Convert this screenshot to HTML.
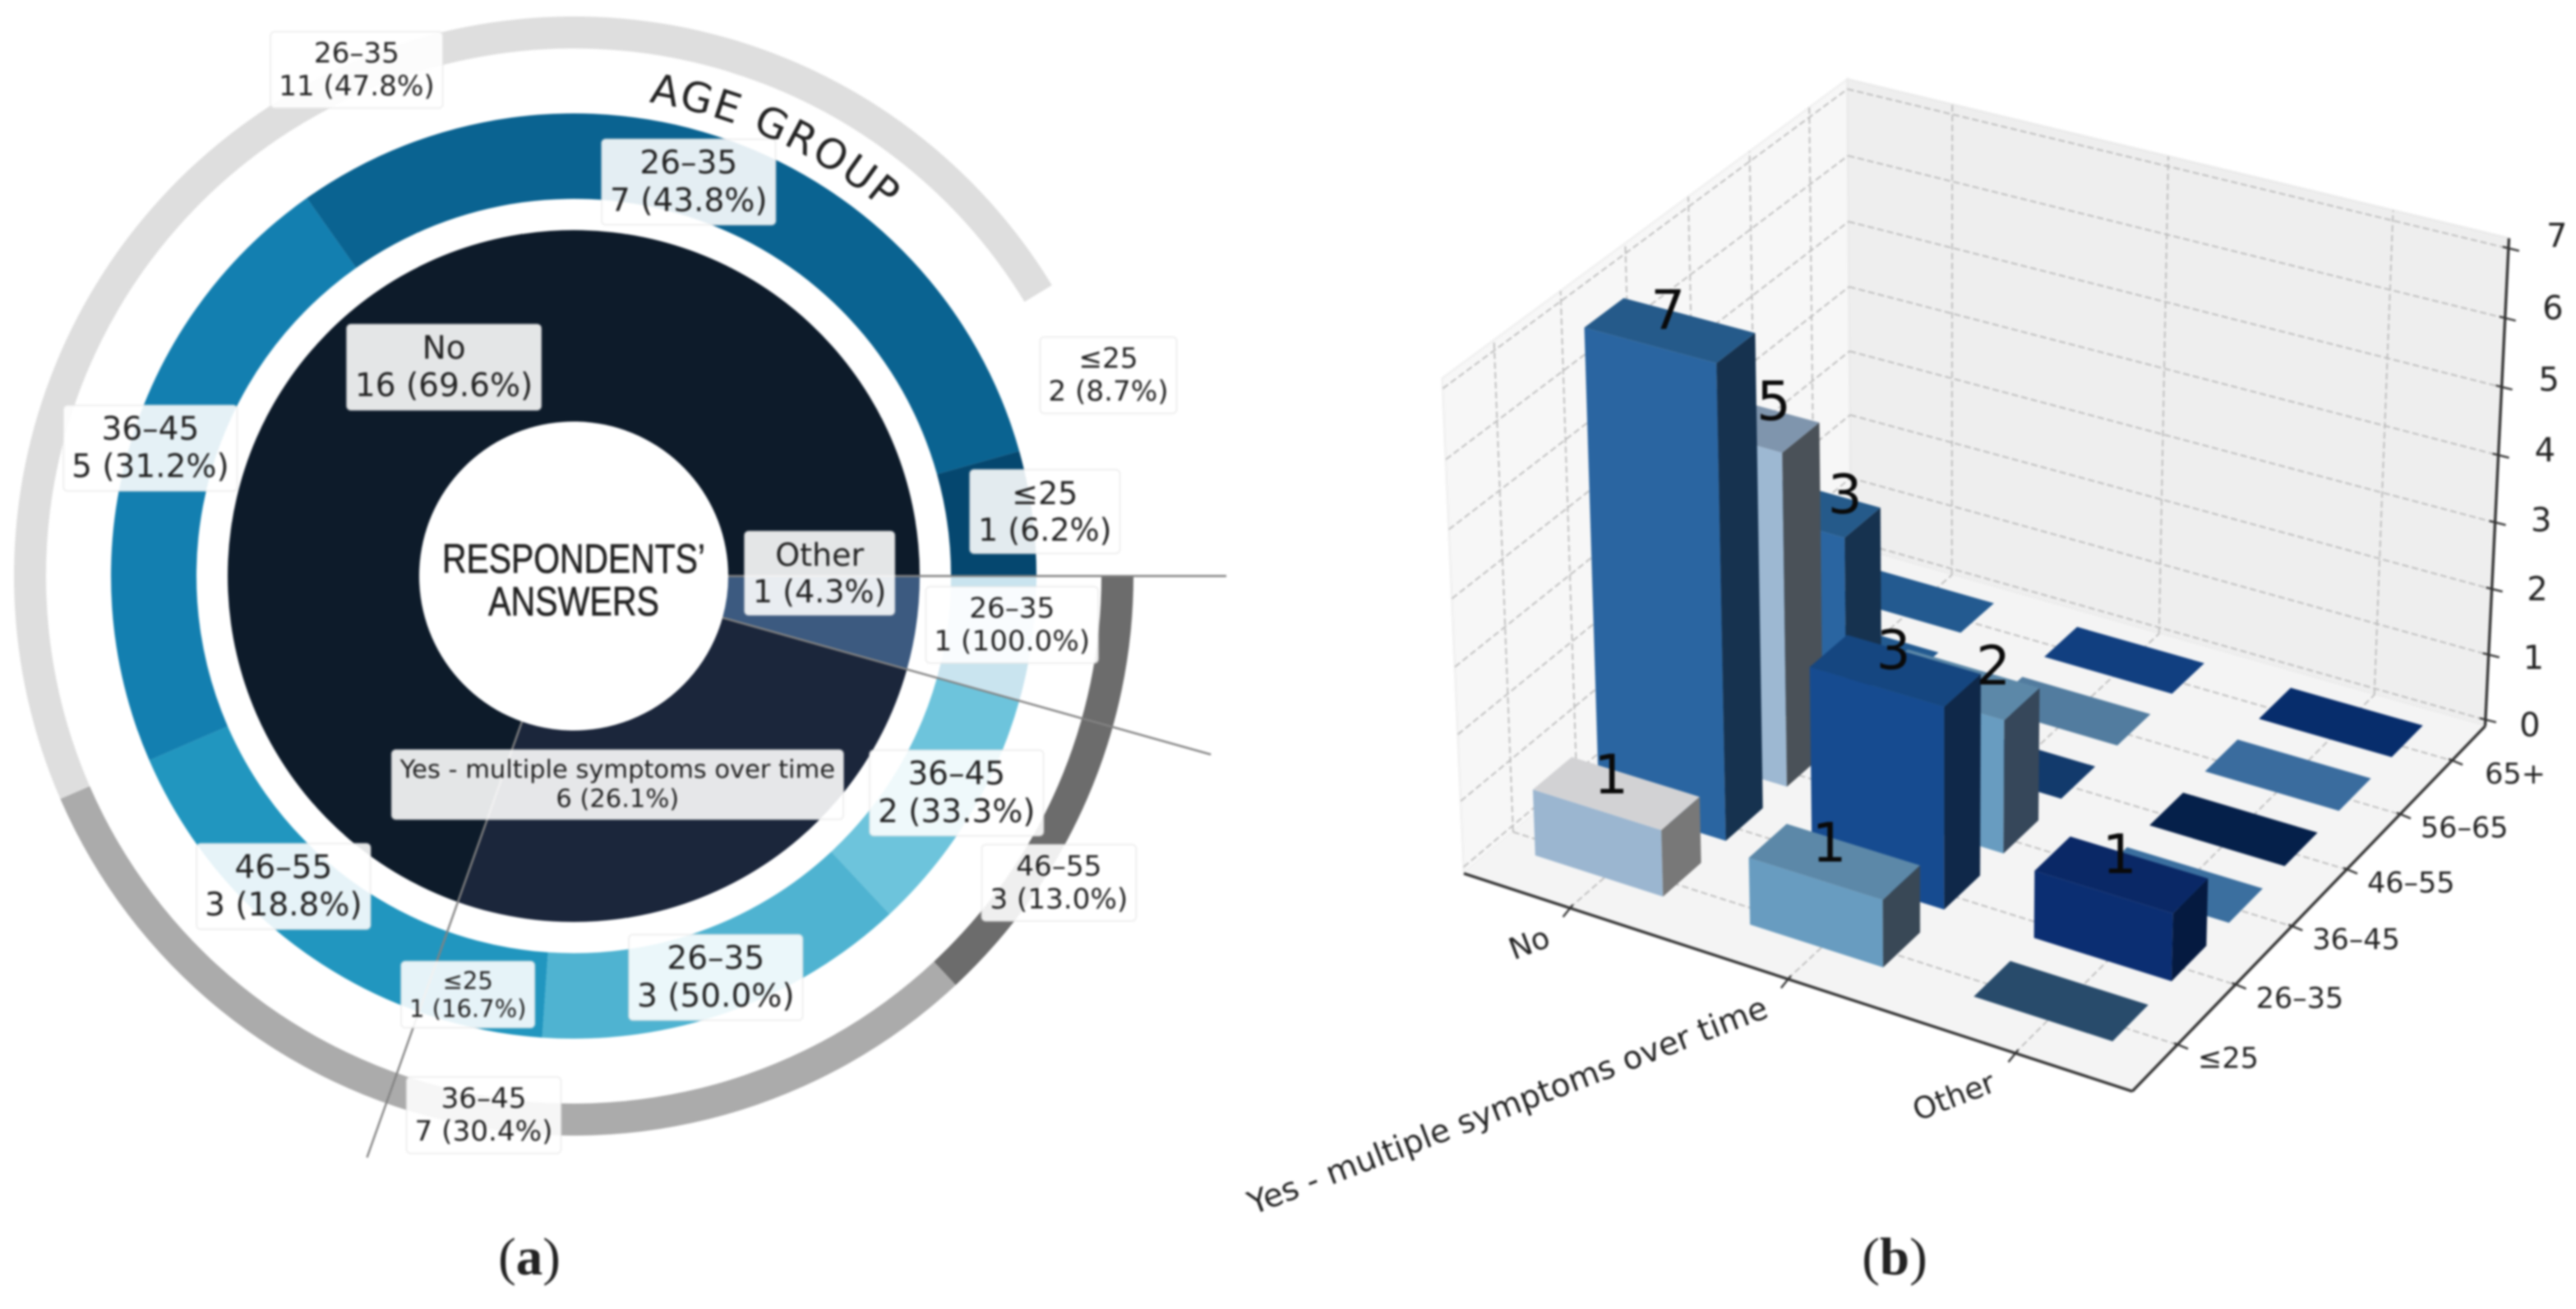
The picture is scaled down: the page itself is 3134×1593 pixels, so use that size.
<!DOCTYPE html>
<html lang="en">
<head>
<meta charset="utf-8">
<title>Respondents' answers by age group</title>
<style>
html,body{margin:0;padding:0;background:#fff;width:3134px;height:1593px;overflow:hidden}
svg{display:block;filter:blur(1.3px)}
text{font-family:"DejaVu Sans","Liberation Sans",sans-serif;fill:#222222}
</style>
</head>
<body>
<svg id="figure" xmlns="http://www.w3.org/2000/svg" width="3134" height="1593" viewBox="0 0 3134 1593">
  <rect x="0" y="0" width="3134" height="1593" fill="#ffffff"/>
  <g id="donut"></g>
  <g id="bars3d"></g>
  <text x="644" y="1551" text-anchor="middle" font-size="65" style="font-family:'Liberation Serif',serif">(<tspan font-weight="bold">a</tspan>)</text>
  <text x="2305" y="1551" text-anchor="middle" font-size="65" style="font-family:'Liberation Serif',serif">(<tspan font-weight="bold">b</tspan>)</text>
</svg>
<script>
// ---- donut data ----
const innerLabels = ['Other', 'Yes - multiple symptoms over time', 'No'];
const innerCounts = [1, 6, 16];
const innerPercents = ['4.3%', '26.1%', '69.6%'];
const otherAges = ['26–35'];
const otherCounts = [1];
const otherPercents = ['100.0%'];
const yesAges = ['36–45', '26–35', '≤25'];
const yesCounts = [2, 3, 1];
const yesPercents = ['33.3%', '50.0%', '16.7%'];
const noAges = ['46–55', '36–45', '26–35', '≤25'];
const noCounts = [3, 5, 7, 1];
const noPercents = ['18.8%', '31.2%', '43.8%', '6.2%'];
const outerAges = ['46–55', '36–45', '26–35', '≤25'];
const outerCounts = [3, 7, 11, 2];
const outerPercents = ['13.0%', '30.4%', '47.8%', '8.7%'];

// ---- 3D bar data ----
const xCategories = ['No', 'Yes - multiple symptoms over time', 'Other'];
const yCategories = ['≤25', '26–35', '36–45', '46–55', '56–65', '65+'];
const zTickLabels = [0, 1, 2, 3, 4, 5, 6, 7];
const countsNo = [1, 7, 5, 3, 0, 0];
const countsYes = [1, 3, 2, 0, 0, 0];
const countsOther = [0, 1, 0, 0, 0, 0];

// ---- styling (not data) ----
const NS = 'http://www.w3.org/2000/svg';
const donut = document.getElementById('donut');
const bars = document.getElementById('bars3d');
function mk(parent, tag, attrs, txt) {
  const el = document.createElementNS(NS, tag);
  for (const k in attrs) el.setAttribute(k, attrs[k]);
  if (txt !== undefined) el.textContent = txt;
  parent.appendChild(el);
  return el;
}
function slug(s) { return String(s).toLowerCase().replace('≤', 'under-').replace(/[^a-z0-9]+/g, '-'); }

// ---- donut scales ----
const CX = 698, CY = 701;
const sum = a => a.reduce((p, c) => p + c, 0);
const angleScale = v => v / sum(innerCounts) * 360;
const pos = (r, deg) => [CX + r * Math.cos(deg * Math.PI / 180), CY + r * Math.sin(deg * Math.PI / 180)];
function sector(r0, r1, a0, a1) {
  const p0 = pos(r1, a0), p1 = pos(r1, a1), p2 = pos(r0, a1), p3 = pos(r0, a0);
  const lg = (a1 - a0) > 180 ? 1 : 0;
  return 'M' + p0[0] + ' ' + p0[1] + 'A' + r1 + ' ' + r1 + ' 0 ' + lg + ' 1 ' + p1[0] + ' ' + p1[1] +
    'L' + p2[0] + ' ' + p2[1] + 'A' + r0 + ' ' + r0 + ' 0 ' + lg + ' 0 ' + p3[0] + ' ' + p3[1] + 'Z';
}

const innerColors = ['#3c5a80', '#1b263b', '#0d1b2a'];
const otherColors = ['#c9e4ef'];
const yesColors = ['#6dc4dc', '#4fb3d1', '#2196bf'];
const noColors = ['#2196bf', '#137fb0', '#0a6391', '#05476f'];
const outerColors = ['#6c6c6c', '#ababab', '#dedede', '#ffffff'];
const labelQueue = [];

// inner ring + separators
let innerStart = 0;
const innerSpans = [];
innerCounts.forEach((c, i) => {
  const span = angleScale(c);
  const wedge = mk(donut, 'path', { d: sector(188, 421, innerStart, innerStart + span), fill: innerColors[i] });
  
  
  innerSpans.push([innerStart, span]);
  innerStart += span;
});

// middle ring
const midGroups = [
  [otherAges, otherCounts, otherPercents, otherColors, 'other'],
  [yesAges, yesCounts, yesPercents, yesColors, 'yes'],
  [noAges, noCounts, noPercents, noColors, 'no']
];
const midNudges = [[[28, -10]], [[30, -1], [2, 8], [-25, 10]], [[-5, 5], [-24, -18], [-31, 1], [68, -9]]];
const midFonts = [[34.2], [39, 39, 29], [39, 39, 39, 38]];
midGroups.forEach((g, gi) => {
  let a = innerSpans[gi][0];
  const total = sum(g[1]);
  g[1].forEach((c, i) => {
    const span = innerSpans[gi][1] * c / total;
    const wedge = mk(donut, 'path', { d: sector(459, 563, a, a + span), fill: g[3][i] });
    
    
    const p = pos(510, a + span / 2);
    labelQueue.push({ x: p[0] + midNudges[gi][i][0], y: p[1] + midNudges[gi][i][1], l1: g[0][i], l2: c + ' (' + g[2][i] + ')', fs: midFonts[gi][i], name: 'age-label-' + g[4] + '-' + slug(g[0][i]) });
    a += span;
  });
});

// outer ring
let outerStart = 0;
const outerNudges = [[-16, 110], [25, 9], [40, -29], [14, -66]];
const outerTotal = sum(outerCounts);
outerCounts.forEach((c, i) => {
  const span = c / outerTotal * 360;
  const wedge = mk(donut, 'path', { d: sector(642, 681, outerStart, outerStart + span), fill: outerColors[i] });
  
  
  const p = pos(661, outerStart + span / 2);
  labelQueue.push({ x: p[0] + outerNudges[i][0], y: p[1] + outerNudges[i][1], l1: outerAges[i], l2: c + ' (' + outerPercents[i] + ')', fs: 34.2, name: 'overall-age-label-' + slug(outerAges[i]) });
  outerStart += span;
});

// separators from hole to beyond ring
const separatorLengths = [794, 805, 751];
innerSpans.forEach((s, i) => {
  const a = s[0];
  const p0 = pos(188, a), p1 = pos(separatorLengths[i], a);
  const line = mk(donut, 'line', { x1: p0[0], y1: p0[1], x2: p1[0], y2: p1[1], stroke: '#828282', 'stroke-width': 2.4 });
  
  
});

// inner labels
const innerNudges = [[-3, -45], [-87, -17], [18, -5]];
const innerFonts = [38, 30.5, 39];
innerCounts.forEach((c, i) => {
  const s = innerSpans[i];
  const p = pos(305, s[0] + s[1] / 2);
  labelQueue.push({ x: p[0] + innerNudges[i][0], y: p[1] + innerNudges[i][1], l1: innerLabels[i], l2: c + ' (' + innerPercents[i] + ')', fs: innerFonts[i], name: 'answer-label-' + slug(innerLabels[i]) });
});

// boxed labels
labelQueue.forEach(q => {
  const g = mk(donut, 'g', {});
  
  
  const lh = q.fs * 1.17;
  const box = mk(g, 'rect', { rx: 5, ry: 5, fill: 'rgba(255,255,255,.89)', stroke: 'rgba(225,225,225,.55)', 'stroke-width': 2 });
  
  
  const t1 = mk(g, 'text', { x: q.x, y: q.y - lh / 2, 'text-anchor': 'middle', 'dominant-baseline': 'central', 'font-size': q.fs }, q.l1);
  
  
  const t2 = mk(g, 'text', { x: q.x, y: q.y + lh / 2, 'text-anchor': 'middle', 'dominant-baseline': 'central', 'font-size': q.fs }, q.l2);
  
  
  const w = Math.max(t1.getComputedTextLength(), t2.getComputedTextLength()) + 20;
  const h = lh * 2 + 13;
  box.setAttribute('x', q.x - w / 2);
  box.setAttribute('y', q.y - h / 2);
  box.setAttribute('width', w);
  box.setAttribute('height', h);
});

// center title
const centerT1 = mk(donut, 'text', { x: CX, y: 697, 'text-anchor': 'middle', 'font-size': 50, textLength: 320, lengthAdjust: 'spacingAndGlyphs', stroke: '#222222', 'stroke-width': 0.6, style: 'font-family:"Liberation Sans",sans-serif' }, 'RESPONDENTS’');


const centerT2 = mk(donut, 'text', { x: CX, y: 749, 'text-anchor': 'middle', 'font-size': 50, textLength: 208, lengthAdjust: 'spacingAndGlyphs', stroke: '#222222', 'stroke-width': 0.6, style: 'font-family:"Liberation Sans",sans-serif' }, 'ANSWERS');



// curved title
const arcStart = pos(584, -81), arcEnd = pos(584, -44);
mk(donut, 'path', { id: 'age-arc', d: 'M' + arcStart[0] + ' ' + arcStart[1] + 'A584 584 0 0 1 ' + arcEnd[0] + ' ' + arcEnd[1], fill: 'none', stroke: 'none' });
const ageText = mk(donut, 'text', { 'font-size': 50, 'letter-spacing': 2.5 });


const ageTP = mk(ageText, 'textPath', { href: '#age-arc' }, 'AGE GROUP');

// ---- 3D axis functions (projective camera) ----
const O = [1781, 1063], VX = [-10803, -3039], VY = [7600, -3853], VZ = [2362.6, 14417];
const PERSP_X = -0.0607, PERSP_Y = 0.0881, PERSP_Z = -0.0428;
function project(t, s, u) {
  const w = 1 + PERSP_X * t + PERSP_Y * s + PERSP_Z * u;
  return [
    (O[0] + t * PERSP_X * VX[0] + s * PERSP_Y * VY[0] + u * PERSP_Z * VZ[0]) / w,
    (O[1] + t * PERSP_X * VX[1] + s * PERSP_Y * VY[1] + u * PERSP_Z * VZ[1]) / w
  ];
}
const xAxis = i => (i + 0.5) / 3;
const yAxis = j => 0.118 + 0.156 * j;
const zAxis = v => 0.0138 + 0.1393 * v;
const BAR_T = 0.1, BAR_S = 0.047, PANE_TOP = 1.009;
const pts = list => list.map(p => { const q = project(p[0], p[1], p[2]); return q[0].toFixed(1) + ',' + q[1].toFixed(1); }).join(' ');

// panes
const paneLeft = mk(bars, 'polygon', { points: pts([[0, 0, 0], [0, 1, 0], [0, 1, PANE_TOP], [0, 0, PANE_TOP]]), fill: '#f7f7f7', stroke: '#f1f1f1', 'stroke-width': 3 });


const paneRight = mk(bars, 'polygon', { points: pts([[0, 1, 0], [1, 1, 0], [1, 1, PANE_TOP], [0, 1, PANE_TOP]]), fill: '#eeeeee', stroke: '#ebebeb', 'stroke-width': 3 });


const paneFloor = mk(bars, 'polygon', { points: pts([[0, 0, 0], [1, 0, 0], [1, 1, 0], [0, 1, 0]]), fill: '#f4f4f4' });



// gridlines
function grid(a, b, name) {
  const p = project(a[0], a[1], a[2]), q = project(b[0], b[1], b[2]);
  const l = mk(bars, 'line', { x1: p[0], y1: p[1], x2: q[0], y2: q[1], stroke: '#bcbcbc', 'stroke-width': 1.9, 'stroke-dasharray': '8 4' });
  
  
}
xCategories.forEach((c, i) => {
  const t = xAxis(i);
  grid([t, 0, 0], [t, 1, 0], 'floor-gridline-x-' + i);
  grid([t, 1, 0], [t, 1, PANE_TOP], 'wall-gridline-x-' + i);
});
yCategories.forEach((c, j) => {
  const s = yAxis(j);
  grid([0, s, 0], [1, s, 0], 'floor-gridline-y-' + j);
  grid([0, s, 0], [0, s, PANE_TOP], 'wall-gridline-y-' + j);
});
zTickLabels.forEach(v => {
  const u = zAxis(v);
  grid([0, 0, u], [0, 1, u], 'left-wall-gridline-z-' + v);
  grid([0, 1, u], [1, 1, u], 'back-wall-gridline-z-' + v);
});

// bars
const countsByCategory = [countsNo, countsYes, countsOther];
const frontColors = [
  ['#9bb6d0', '#2a65a1', '#9db8d2', '#2a65a1', '#235a90', '#235a90'],
  ['#689cc0', '#164b90', '#689cc0', '#123a6c', '#527c9f', '#113f80'],
  ['#284b6b', '#0b2e72', '#3b6f9f', '#05204a', '#3a6c9e', '#072d6c']
];
const topColors = [
  ['#d2d2d4', '#255a8a', '#7f95ad', '#255a8a', '#235a90', '#235a90'],
  ['#5c88a8', '#154680', '#5c88a8', '#123a6c', '#527c9f', '#113f80'],
  ['#284b6b', '#0a2866', '#3b6f9f', '#05204a', '#3a6c9e', '#072d6c']
];
const sideColors = [
  ['#787878', '#16324f', '#4a5158', '#16324f', '#16324f', '#16324f'],
  ['#394856', '#0f2849', '#36475a', '#0f2849', '#36475a', '#0f2849'],
  ['#16283b', '#051a40', '#22405c', '#03122a', '#22405c', '#03183c']
];
const valueLabelShiftX = [0, 4, 52, 62, 0, 0];
const valueLabelShiftY = [0, -2, 0, 10, 0, 0];
const barLabels = [];
countsByCategory.forEach((row, i) => {
  const tc = xAxis(i);
  for (let j = row.length - 1; j >= 0; j--) {
    const h = row[j];
    const sc = yAxis(j);
    const t0 = tc - BAR_T, t1 = tc + BAR_T, s0 = sc - BAR_S, s1 = sc + BAR_S, u0 = zAxis(0), u = zAxis(h);
    const g = mk(bars, 'g', {});
    
    
    if (h > 0) {
      const front = mk(g, 'polygon', { points: pts([[t0, s0, u0], [t1, s0, u0], [t1, s0, u], [t0, s0, u]]), fill: frontColors[i][j] });
      
      
      const side = mk(g, 'polygon', { points: pts([[t1, s0, u0], [t1, s1, u0], [t1, s1, u], [t1, s0, u]]), fill: sideColors[i][j] });
      
      
    }
    const top = mk(g, 'polygon', { points: pts([[t0, s0, u], [t1, s0, u], [t1, s1, u], [t0, s1, u]]), fill: topColors[i][j] });
    
    
    if (h > 0) barLabels.push([tc, sc, u, h, j]);
  }
});
barLabels.forEach(b => {
  const p = project(b[0], b[1], b[2]);
  const t = mk(bars, 'text', { x: p[0] - 6 + valueLabelShiftX[b[4]], y: p[1] + valueLabelShiftY[b[4]], 'text-anchor': 'middle', 'font-size': 66, style: 'fill:#0a0a0a' }, b[3]);
  
  
});

// axes
function axisLine(a, b, name) {
  const p = project(a[0], a[1], a[2]), q = project(b[0], b[1], b[2]);
  const l = mk(bars, 'line', { x1: p[0], y1: p[1], x2: q[0], y2: q[1], stroke: '#333333', 'stroke-width': 3.4 });
  
  
}
axisLine([0, 0, 0], [1, 0, 0], 'x-axis-line');
axisLine([1, 0, 0], [1, 1, 0], 'y-axis-line');
axisLine([1, 1, 0], [1, 1, PANE_TOP], 'z-axis-line');

function tick(p, d0, d1, name) {
  const l = mk(bars, 'line', { x1: p[0] + d0[0], y1: p[1] + d0[1], x2: p[0] + d1[0], y2: p[1] + d1[1], stroke: '#333333', 'stroke-width': 2.4 });
  
  
}
xCategories.forEach((c, i) => {
  const p = project(xAxis(i), 0, 0);
  tick(p, [4, -4], [-8, 11], 'x-tick-' + i);
  const lx = p[0] - 26, ly = p[1] + 34;
  const t = mk(bars, 'text', { x: lx, y: ly, 'text-anchor': 'end', 'dominant-baseline': 'central', 'font-size': i === 1 ? 38.8 : 36.5, transform: 'rotate(-21 ' + lx + ' ' + ly + ')' }, c);
  
  
});
yCategories.forEach((c, j) => {
  const p = project(1, yAxis(j), 0);
  tick(p, [-4, -2], [13, 5], 'y-tick-' + j);
  const t = mk(bars, 'text', { x: p[0] + (j === 5 ? 40 : 25), y: p[1] + 17, 'dominant-baseline': 'central', 'font-size': 35 }, c);
  
  
});
zTickLabels.forEach(v => {
  const p = project(1, 1, zAxis(v));
  tick(p, [-7, -2], [13, 3], 'z-tick-' + v);
  const t = mk(bars, 'text', { x: p[0] + 54 + 0.7 * v, y: p[1] + 7 - 3.1 * v, 'text-anchor': 'middle', 'dominant-baseline': 'central', 'font-size': 40 }, v);
  
  
});
</script>
</body>
</html>
